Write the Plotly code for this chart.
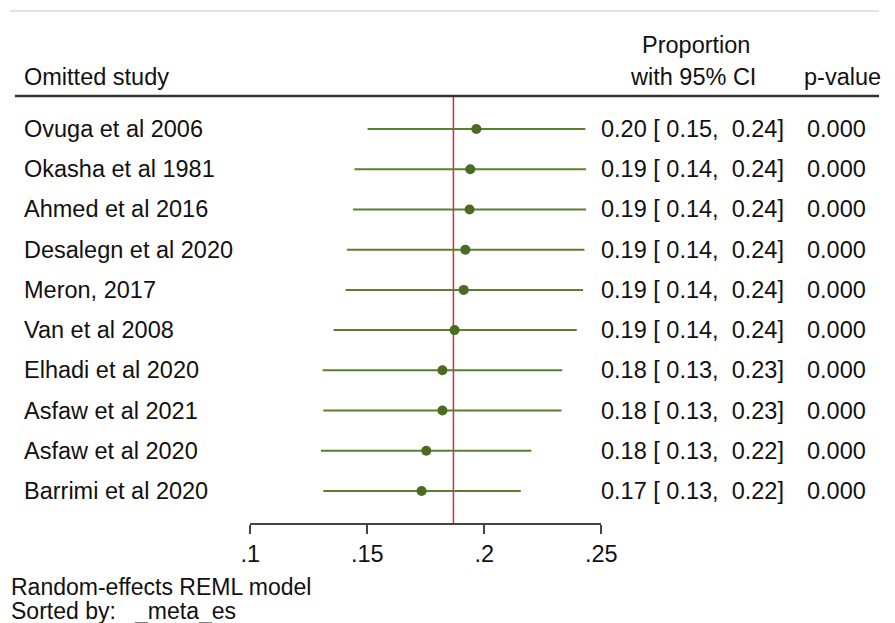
import plotly.graph_objects as go

W, H = 895, 623

studies = ["Ovuga et al 2006", "Okasha et al 1981", "Ahmed et al 2016", "Desalegn et al 2020",
           "Meron, 2017", "Van et al 2008", "Elhadi et al 2020", "Asfaw et al 2021",
           "Asfaw et al 2020", "Barrimi et al 2020"]
estimate = [0.1966, 0.1940, 0.1937, 0.1919, 0.1912, 0.1873, 0.1821, 0.1821, 0.1752, 0.1732]
ci_low = [0.1501, 0.1445, 0.1439, 0.1413, 0.1407, 0.1356, 0.1309, 0.1312, 0.1302, 0.1312]
ci_high = [0.2432, 0.2435, 0.2435, 0.2428, 0.2422, 0.2395, 0.2333, 0.2330, 0.2201, 0.2156]
p_values = ["0.000"] * 10
overall = 0.1868
tick_vals = [0.1, 0.15, 0.2, 0.25]
tick_text = [".1", ".15", ".2", ".25"]

FONT = "Liberation Sans, Arial, sans-serif"
FS = 23.5
LINE_C = "#5b7f2e"
DOT_C = "#4b6a22"

def py(p):
    return 1 - p / H

rows = list(range(1, len(studies) + 1))

fig = go.Figure()
for r, lo, hi in zip(rows, ci_low, ci_high):
    fig.add_trace(go.Scatter(x=[lo, hi], y=[r, r], mode="lines",
                             line=dict(color=LINE_C, width=2), showlegend=False, hoverinfo="skip"))
fig.add_trace(go.Scatter(x=estimate, y=rows, mode="markers",
                         marker=dict(color=DOT_C, size=10), showlegend=False))

# overall effect line
fig.add_shape(type="line", xref="x", yref="paper", x0=overall, x1=overall, layer="below",
              y0=py(523), y1=py(97), line=dict(color="#d82a35", width=1.5))

# top rule and header separator
fig.add_shape(type="line", xref="paper", yref="paper", x0=0, x1=1, y0=py(11), y1=py(11),
              line=dict(color="#d9d9d9", width=1.5))
fig.add_shape(type="line", xref="paper", yref="paper", x0=5 / W, x1=1, y0=py(96), y1=py(96),
              line=dict(color="#333333", width=2.5))

ann = []
def add(text, x, y, xanchor="left", yref="paper", size=FS):
    ann.append(dict(text=text, x=x, y=y, xref="paper", yref=yref, xanchor=xanchor,
                    yanchor="middle", showarrow=False,
                    font=dict(family=FONT, size=size, color="#111111")))

add("Omitted study", 12 / W, py(77))
add("Proportion", 707 / W, py(45), xanchor="center")
add("with 95% CI", 770 / W, py(77), xanchor="right")
add("p-value", 816 / W, py(77))

nb = "\u00a0"
for r, s, e, lo, hi, p in zip(rows, studies, estimate, ci_low, ci_high, p_values):
    add(s, 12 / W, r, yref="y")
    add(f"{e:.2f}{nb}[{nb}{lo:.2f},{nb}{nb}{hi:.2f}]", 799 / W, r, xanchor="right", yref="y")
    add(p, 884 / W, r, xanchor="right", yref="y")

add("Random-effects REML model", -1 / W, py(587), size=23)
add(f"Sorted by:{nb}{nb}{nb}_meta_es", -1 / W, py(611), size=23)

fig.update_layout(
    width=W, height=H, margin=dict(l=0, r=0, t=0, b=0),
    paper_bgcolor="white", plot_bgcolor="white",
    annotations=ann,
    xaxis=dict(domain=[247.5 / W, 609 / W], range=[0.1, 0.25], tickvals=tick_vals,
               ticktext=tick_text, ticks="outside", ticklen=9, tickwidth=1.5,
               tickcolor="#444444", showline=True, linecolor="#444444", linewidth=1.5,
               showgrid=False, zeroline=False,
               tickfont=dict(family=FONT, size=FS, color="#111111")),
    yaxis=dict(domain=[py(523), py(97)], range=[10.796, 0.204], visible=False,
               showgrid=False, zeroline=False),
)

fig.write_html("out.html")
